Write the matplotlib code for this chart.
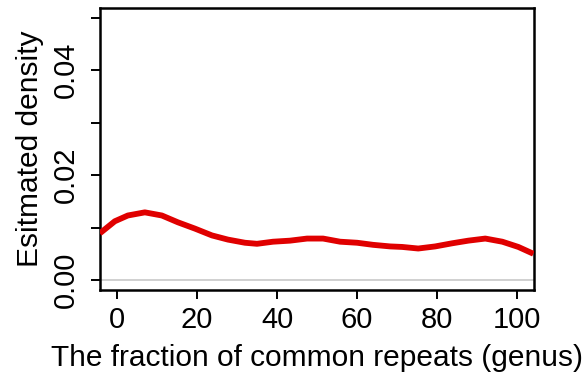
import numpy as np
import matplotlib
matplotlib.use("Agg")
import matplotlib.pyplot as plt

# density curve
frac = [-4.25, -3.75, -0.5, 2.75, 7.0, 11.25, 15.25, 19.5, 23.75, 27.75, 32.0,
        35.0, 39.0, 43.25, 47.5, 51.5, 55.75, 60.0, 64.0, 68.25,
        71.25, 75.25, 79.5, 83.75, 87.75, 92.0, 96.25, 100.25, 104.0]
dens = [0.0089, 0.0092, 0.0112, 0.0123, 0.0129, 0.0123, 0.0110, 0.0098, 0.0085, 0.0077, 0.0071,
        0.0069, 0.0073, 0.0075, 0.0079, 0.0079, 0.0073, 0.0071, 0.0067, 0.0064,
        0.0063, 0.0060, 0.0064, 0.0070, 0.0075, 0.0079, 0.0073, 0.0063, 0.0050]

xticks = [0, 20, 40, 60, 80, 100]
yticks = [0.00, 0.01, 0.02, 0.03, 0.04, 0.05]
ylabels = ["0.00", "", "0.02", "", "0.04", ""]

plt.rcParams['font.family'] = ['Liberation Sans', 'DejaVu Sans']

fig = plt.figure(figsize=(5.87, 3.78), dpi=100)
ax = fig.add_axes([0.170, 0.233, 0.740, 0.746])

ax.axhline(0, color="#c8c8c8", lw=1.2, zorder=1)
ax.plot(frac, dens, color="#e00000", lw=4.2, solid_capstyle="butt", zorder=3)

ax.set_xlim(-4.25, 104.2)
ax.set_ylim(-0.0019, 0.0519)
ax.set_xticks(xticks)
ax.set_yticks(yticks)
ax.set_yticklabels(ylabels, rotation=90, va="center")
ax.tick_params(axis="both", labelsize=21, length=6.5, width=1.4, colors="black")
ax.tick_params(axis="x", pad=5)
ax.tick_params(axis="y", pad=7.5)

for s in ax.spines.values():
    s.set_linewidth(1.8)

ax.set_xlabel("The fraction of common repeats (genus)", fontsize=21.5, labelpad=7.5)
ax.set_ylabel("Esitmated density", fontsize=21.5, labelpad=6)

fig.savefig("out.png", dpi=100)
